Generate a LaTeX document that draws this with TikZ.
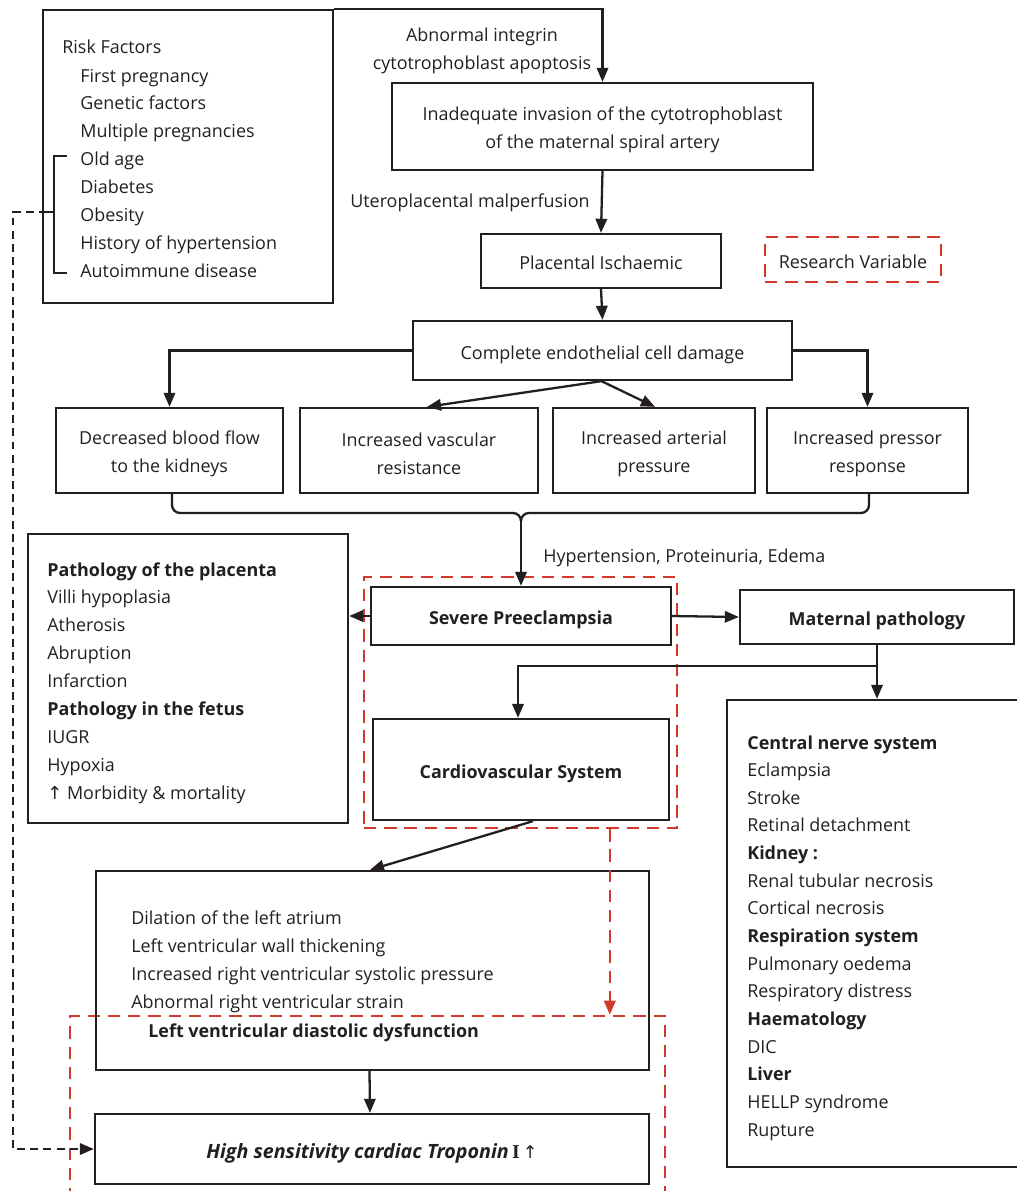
\documentclass[tikz,border=0pt]{standalone}
\usepackage{fontspec}
\setmainfont{Open Sans}
\newfontfamily\arrowfont{DejaVu Sans}
\newfontfamily\serifI{Liberation Serif}
\usetikzlibrary{arrows.meta,calc}
\definecolor{lc}{HTML}{231F20}
\definecolor{rc}{HTML}{D23A2E}
\newcommand\fs{\fontsize{10.2pt}{15.9pt}\selectfont}
\tikzset{
  box/.style={draw=lc, line width=1.3pt, inner sep=0pt, align=center, font=\fs, text=lc, text height=10.2pt, text depth=0pt},
  sz/.style 2 args={minimum width=#1*0.02cm, minimum height=#2*0.02cm},
  txt/.style={inner sep=0pt, font=\fs, text=lc},
  arr/.style={draw=lc, line width=1.3pt, -{Triangle[length=8pt,width=6.5pt]}},
  ln/.style={draw=lc, line width=1.3pt},
  rbox/.style={draw=rc, line width=1.4pt, dash pattern=on 7pt off 4.5pt, inner sep=0pt},
  rarr/.style={draw=rc, line width=1.4pt, dash pattern=on 7pt off 4.5pt, -{Triangle[length=8pt,width=6.5pt]}},
  karr/.style={draw=lc, line width=1.3pt, dash pattern=on 4.5pt off 3pt, -{Triangle[length=8pt,width=6.5pt]}}
}
\begin{document}
\begin{tikzpicture}[x=0.02cm,y=-0.02cm]
\useasboundingbox (0,0) rectangle (1017,1191);
% red dashed frames
\node[rbox, sz={313}{251}] (rd1) at (520.5,702.5) {};
\node[rbox, sz={595}{214}] (rd2) at (367.5,1123) {};
% boxes
\node[box, sz={290}{293}] (risk) at (188,156.5) {};
\node[box, sz={421}{87}] (inad) at (602.5,126.5) {};
\node[txt, align=center] (inadt) at ($(inad.center)+(0,3.5)$) {Inadequate invasion of the cytotrophoblast\\of the maternal spiral artery};
\node[box, sz={240}{54}] (plac) at (601,261) {Placental Ischaemic};
\node[rbox, sz={176}{45}, font=\fs, text=lc, text height=10.2pt, text depth=0pt] (rv) at (853,259.5) {Research Variable};
\node[box, sz={379}{59}] (ced) at (602.5,350.5) {Complete endothelial cell damage};
\node[box, sz={227}{85}] (dbf) at (169.5,450.5) {};
\node[box, sz={238}{85}] (ivr) at (419,450.5) {};
\node[box, sz={202}{85}] (iap) at (654,450.5) {};
\node[box, sz={201}{85}] (ipr) at (867.5,450.5) {};
\node[txt, align=center] (dbft) at ($(dbf.center)+(0,3.5)$) {Decreased blood flow\\to the kidneys};
\node[txt, align=center] (ivrt) at ($(ivr.center)+(0,3.5)$) {Increased vascular\\resistance};
\node[txt, align=center] (iapt) at ($(iap.center)+(0,3.5)$) {Increased arterial\\pressure};
\node[txt, align=center] (iprt) at ($(ipr.center)+(0,3.5)$) {Increased pressor\\response};
\node[box, sz={320}{289}] (path) at (188,678.5) {};
\node[box, sz={300}{58}, font=\fs\bfseries] (sp) at (521,616) {Severe Preeclampsia};
\node[box, sz={274}{54}, font=\fs\bfseries] (mp) at (877,617) {Maternal pathology};
\node[box, sz={296}{101}, font=\fs\bfseries] (cvs) at (521,769.5) {Cardiovascular System};
\node[box, sz={303}{467}] (cns) at (878.5,933.5) {};
\node[box, sz={553}{199}] (lv) at (372.5,970.5) {};
\node[box, sz={554}{70}, font=\fontsize{11.2pt}{14pt}\selectfont, text height=11pt] (trop) at (372,1149) {\bfseries\itshape High sensitivity cardiac Troponin\,{\serifI\upshape I}\,{\arrowfont\mdseries\fontsize{10pt}{10pt}\selectfont ↑}};
% risk factor texts
\node[txt, anchor=base west] (rft) at (62,53) {Risk Factors};
\foreach \t [count=\i] in {First pregnancy, Genetic factors, Multiple pregnancies, Old age, Diabetes, Obesity, History of hypertension, Autoimmune disease}
  \node[txt, anchor=base west] (rf\i) at (80,{82+(\i-1)*27.86}) {\t};
\draw[ln] (67,156) -- (54,156) -- (54,273) -- (67,273);
\coordinate (rbm) at (54,212);
\coordinate (rbe) at (47,212);
\draw[ln] (rbm) -- (rbe);
% pathology texts
\foreach \t [count=\i] in {\textbf{Pathology of the placenta}, Villi hypoplasia, Atherosis, Abruption, Infarction, \textbf{Pathology in the fetus}, IUGR, Hypoxia, {{\arrowfont ↑} Morbidity \& mortality}}
  \node[txt, anchor=base west] (pt\i) at (47,{576+(\i-1)*27.9}) {\t};
% maternal list
\foreach \t [count=\i] in {\textbf{Central nerve system}, Eclampsia, Stroke, Retinal detachment, \textbf{Kidney :}, Renal tubular necrosis, Cortical necrosis, \textbf{Respiration system}, Pulmonary oedema, Respiratory distress, \textbf{Haematology}, DIC, \textbf{Liver}, HELLP syndrome, Rupture}
  \node[txt, anchor=base west] (cn\i) at (747,{749+(\i-1)*27.66}) {\t};
% LV list
\foreach \t [count=\i] in {Dilation of the left atrium, Left ventricular wall thickening, Increased right ventricular systolic pressure, Abnormal right ventricular strain}
  \node[txt, anchor=base west] (lv\i) at (131,{924+(\i-1)*28}) {\t};
\node[txt, anchor=base west, font=\fs\bfseries] (lvd) at (148,1037) {Left ventricular diastolic dysfunction};
% labels
\node[txt, align=center] (abn) at (482,50.5) {Abnormal integrin\\cytotrophoblast apoptosis};
\node[txt, anchor=base west] (utl) at (350,207) {Uteroplacental malperfusion};
\node[txt, anchor=base west] (hpe) at (543,562) {Hypertension, Proteinuria, Edema};
% connectors
\draw[arr] (risk.north east) -| (inad.north);
\draw[arr] (inad.south) -- (plac.north);
\draw[arr] (plac.south) -- (ced.north);
\draw[arr] (ced.west) -| (dbf.north);
\draw[arr] (ced.east) -| (ipr.north);
\draw[arr] ($(ced.south)+(-1,0)$) -- ($(ivr.north)+(8,0)$);
\draw[arr] ($(ced.south)+(-1,0)$) -- ($(iap.north)+(1,0)$);
% brace
\coordinate (bl) at (172,493);
\coordinate (br) at (869,493);
\coordinate (bm) at (521,521);
\draw[ln] (bl) -- (172,505) to[out=-90,in=180] (180,513) -- (513,513) to[out=0,in=90] (bm);
\draw[ln] (br) -- (869,505) to[out=-90,in=0] (861,513) -- (529,513) to[out=180,in=90] (bm);
\draw[arr] (bm) -- (sp.north);
\draw[arr] (sp.west) -- (sp.west -| path.east);
\draw[arr] (sp.east) -- (mp.west);
\draw[arr] (mp.south) -- (mp.south |- cns.north);
\coordinate (jn) at ($(mp.south)+(0,21)$);
\draw[arr] (jn) -| ($(cvs.north)+(-3,0)$);
\draw[arr] ($(cvs.south)+(12,0)$) -- ($(lv.north)+(-2.5,0)$);
\draw[arr] ($(lv.south)+(-3,0)$) -- ($(trop.north)+(-2,0)$);
\draw[karr] (rbe) -- (13,212) |- (trop.west);
\coordinate (rda) at ($(rd1.south west)+(247,0)$);
\draw[rarr] (rda) -- (rda |- rd2.north);
\end{tikzpicture}
\end{document}
